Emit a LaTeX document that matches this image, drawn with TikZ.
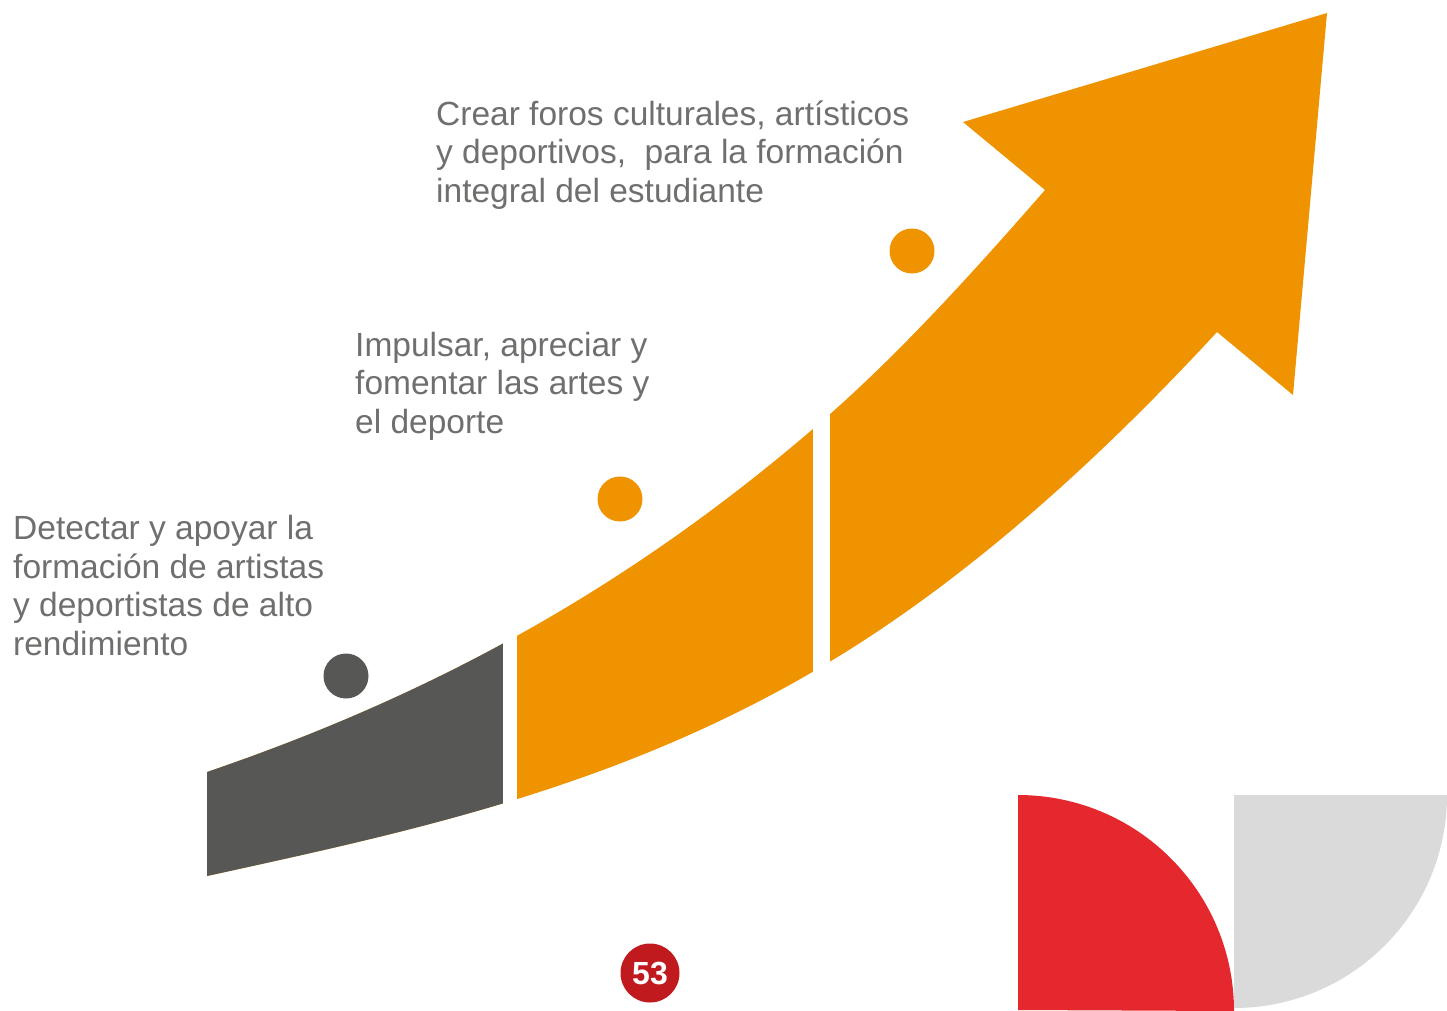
\documentclass[tikz,border=0pt]{standalone}
\usepackage{fontspec}
\setmainfont{Liberation Sans}
\definecolor{orng}{HTML}{F09300}
\definecolor{dgray}{HTML}{575756}
\definecolor{txtgray}{HTML}{6F6F6E}
\definecolor{pagered}{HTML}{C01A1F}
\definecolor{decored}{HTML}{E4282E}
\definecolor{decogray}{HTML}{DADADA}
\begin{document}
\begin{tikzpicture}[x=1pt,y=-1pt,
  lbl/.style={anchor=base west, inner sep=0pt, align=left, text=txtgray,
    font=\fontsize{33.5}{38.4}\selectfont},
  dot/.style={circle, inner sep=0pt, minimum size=45pt}]
\useasboundingbox (0,0) rectangle (1447,1010);
% arrow outline
\def\arrowpath{(207,876) -- (207,772)
  .. controls (412,702) and (616,600) .. (821,422)
  .. controls (896,357) and (970,276) .. (1045,190)
  -- (963,122) -- (1327,13) -- (1293,395) -- (1217,332)
  .. controls (1085,475) and (953,589) .. (821,667)
  .. controls (616,788) and (412,831) .. (207,876) -- cycle}
\fill[orng] \arrowpath;
\begin{scope}
  \clip (0,0) rectangle (510,1010);
  \fill[dgray] \arrowpath;
\end{scope}
\fill[white] (503,600) rectangle (517,830);
\fill[white] (813,380) rectangle (830,700);
% dots
\node[dot, fill=dgray] (d1) at (346,676) {};
\node[dot, fill=orng] (d2) at (620,499) {};
\node[dot, fill=orng] (d3) at (912,251) {};
% texts (anchor base = last line)
\node[lbl] (t1) at (13,655) {Detectar y apoyar la\\formación de artistas\\y deportistas de alto\\rendimiento};
\node[lbl] (t2) at (355,433) {Impulsar, apreciar y\\fomentar las artes y\\el deporte};
\node[lbl] (t3) at (436,202) {Crear foros culturales, artísticos\\y deportivos,\ \ para la formación\\integral del estudiante};
% page number
\node[circle, fill=pagered, inner sep=0pt, minimum size=59pt, text=white,
  font=\fontsize{32}{34}\selectfont\bfseries] (pg) at (650,973) {53};
% decorative quarter circles
\fill[decored] (1018,1010) -- (1018,795) arc[start angle=-90, end angle=0, radius=216] -- cycle;
\fill[decogray] (1234,795) -- (1447,795) arc[start angle=0, end angle=90, radius=213] -- cycle;
\end{tikzpicture}
\end{document}
